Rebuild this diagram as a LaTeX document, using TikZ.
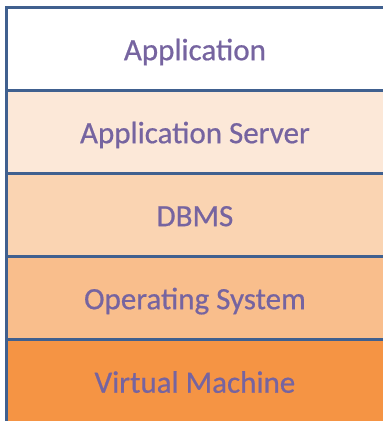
\documentclass[tikz,border=0pt]{standalone}
\usepackage{fontspec}
\setmainfont{Carlito}[FakeBold=0.6]
\definecolor{txt}{HTML}{7664A0}
\definecolor{edge}{HTML}{40608F}
\definecolor{fA}{HTML}{FFFFFF}
\definecolor{fB}{HTML}{FCE8D8}
\definecolor{fC}{HTML}{FAD4B2}
\definecolor{fD}{HTML}{F9BE8C}
\definecolor{fE}{HTML}{F59444}
\begin{document}
\begin{tikzpicture}[x=1pt,y=-1pt,
  layer/.style={draw=none,minimum width=376.5pt,minimum height=83pt,inner sep=0pt,
    text height=22pt,text depth=0pt,
    anchor=north west,text=txt,font=\fontsize{31}{36}\selectfont},
  rule/.style={draw=edge,line width=2.8pt}]
\useasboundingbox (0,0) rectangle (383,421);
\fill[white] (0,0) rectangle (383,421);
\node[layer,fill=fA] (app) at (6.5,7.5) {Application};
\node[layer,fill=fB] (srv) at (6.5,90.5) {Application Server};
\node[layer,fill=fC] (dbms) at (6.5,173.5) {DBMS};
\node[layer,fill=fD] (os) at (6.5,256.5) {Operating System};
\node[layer,fill=fE,minimum height=84pt] (vm) at (6.5,339.5) {Virtual Machine};
\draw[rule] (app.north west) -- (app.north east);
\draw[rule] (srv.north west) -- (srv.north east);
\draw[rule] (dbms.north west) -- (dbms.north east);
\draw[rule] (os.north west) -- (os.north east);
\draw[rule] (vm.north west) -- (vm.north east);
\draw[rule] ([yshift=1.4pt]app.north west) -- (vm.south west);
\end{tikzpicture}
\end{document}
